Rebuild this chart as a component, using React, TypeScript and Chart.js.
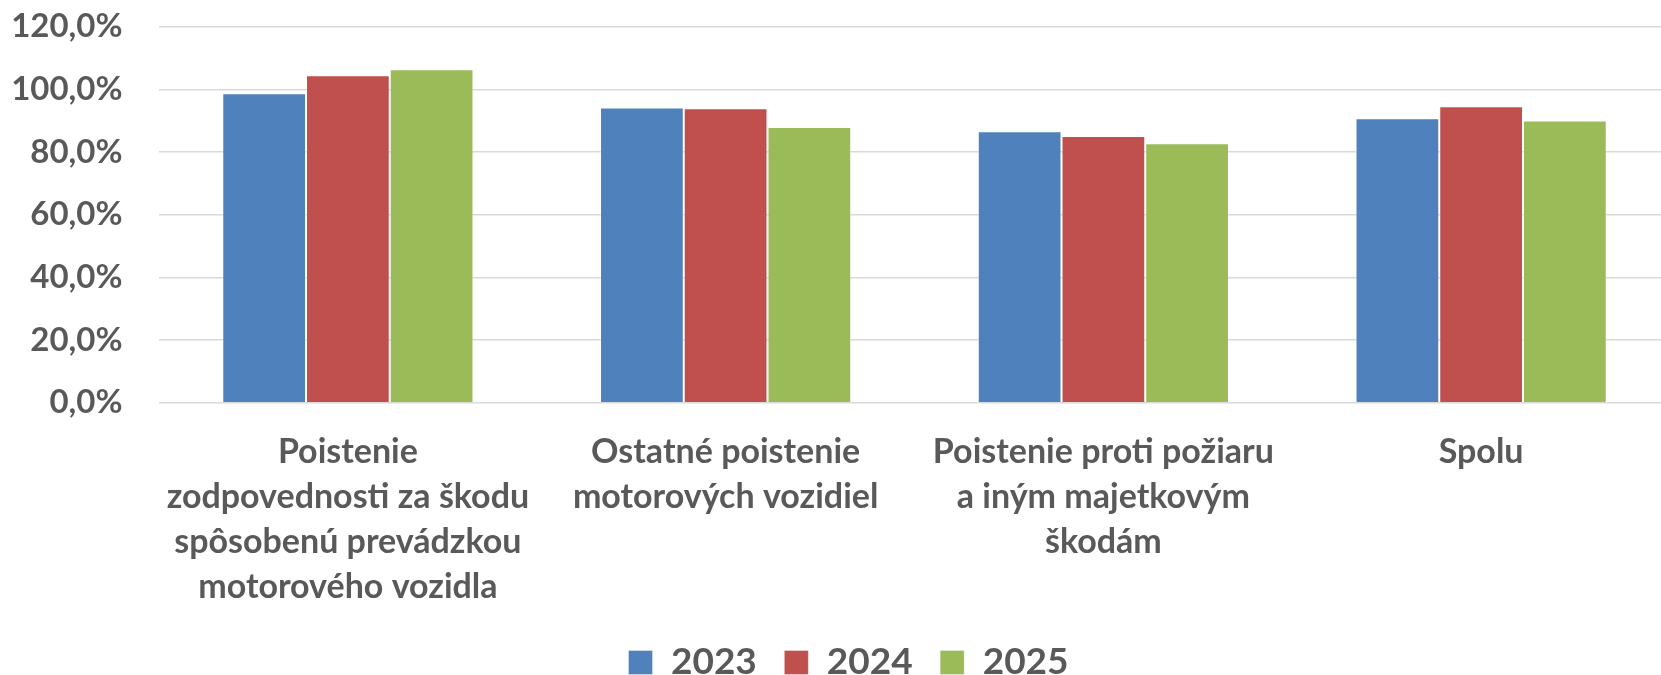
import React, { useEffect, useRef } from "react";
import { Chart, registerables } from "chart.js";

Chart.register(...registerables);

const categories: string[][] = [
  ["Poistenie", "zodpovednosti za škodu", "spôsobenú prevádzkou", "motorového vozidla"],
  ["Ostatné poistenie", "motorových vozidiel"],
  ["Poistenie proti požiaru", "a iným majetkovým", "škodám"],
  ["Spolu"],
];
const seriesNames = ["2023", "2024", "2025"];
const values2023 = [98.75, 94.2, 86.6, 90.8];
const values2024 = [104.5, 94.0, 85.1, 94.6];
const values2025 = [106.4, 88.0, 82.8, 90.1];
const colors = ["#4F81BD", "#C0504D", "#9BBB59"];
const yMin = 0;
const yMax = 120;
const yStep = 20;

const FONT = "Lato, 'Open Sans', sans-serif";
const TEXT = "#595959";
const GRID = "#D9D9D9";
const LEGEND_DY = 16;
const LEGEND_DX = 18;
const X_OVERFLOW = 9; // category axis runs slightly past the right edge

const adjustLayout = {
  id: "adjustLayout",
  afterLayout(chart: any) {
    const lg = chart.legend;
    if (lg) {
      lg.top += LEGEND_DY;
      lg.bottom += LEGEND_DY;
      lg.left += LEGEND_DX;
      lg.right += LEGEND_DX;
    }
    const x = chart.scales.x;
    if (x) {
      x.bottom = chart.height;
      x.height = x.bottom - x.top;
      x.right = chart.width + X_OVERFLOW;
      x.width = x.right - x.left;
      x.configure();
    }
  },
};

export default function App() {
  const ref = useRef<HTMLCanvasElement>(null);
  useEffect(() => {
    if (!ref.current) return;
    const all = [values2023, values2024, values2025];
    const chart = new Chart(ref.current, {
      type: "bar",
      data: {
        labels: categories,
        datasets: seriesNames.map((n, i) => ({
          label: n,
          data: all[i],
          backgroundColor: colors[i],
          borderColor: "rgba(255,255,255,0.35)",
          borderWidth: 1,
          barPercentage: 1,
          categoryPercentage: 0.665,
        })),
      },
      options: {
        animation: false,
        responsive: false,
        maintainAspectRatio: false,
        layout: { padding: { top: 26.7, right: 0, left: 0, bottom: 0 } },
        plugins: {
          legend: {
            position: "bottom",
            labels: {
              boxWidth: 24,
              boxHeight: 24,
              padding: 27.5,
              color: TEXT,
              font: { family: FONT, size: 37, weight: "bold" },
            },
          },
          tooltip: { enabled: false },
        },
        scales: {
          x: {
            grid: { display: false },
            border: { display: false },
            ticks: {
              color: TEXT,
              font: { family: FONT, size: 34, weight: "bold", lineHeight: 1.32 },
              padding: 19,
              maxRotation: 0,
              autoSkip: false,
            },
            afterFit(scale: any) {
              scale.height = 197.8;
            },
          },
          y: {
            min: yMin,
            max: yMax,
            grid: {
              color: GRID,
              lineWidth: 1.5,
              drawTicks: true,
              tickLength: 36.5,
              tickColor: "rgba(0,0,0,0)",
            },
            border: { display: false },
            ticks: {
              stepSize: yStep,
              color: TEXT,
              padding: 0,
              font: { family: FONT, size: 33, weight: "bold" },
              callback: (v: any) => Number(v).toFixed(1).replace(".", ",") + "%",
            },
            afterFit(scale: any) {
              scale.width = 159;
            },
          },
        },
      },
      plugins: [adjustLayout],
    });
    return () => chart.destroy();
  }, []);
  return (
    <div style={{ position: "absolute", left: 0, top: 0, width: 1661, height: 675 }}>
      <canvas ref={ref} width={1661} height={675} style={{ width: 1661, height: 675 }} />
    </div>
  );
}
